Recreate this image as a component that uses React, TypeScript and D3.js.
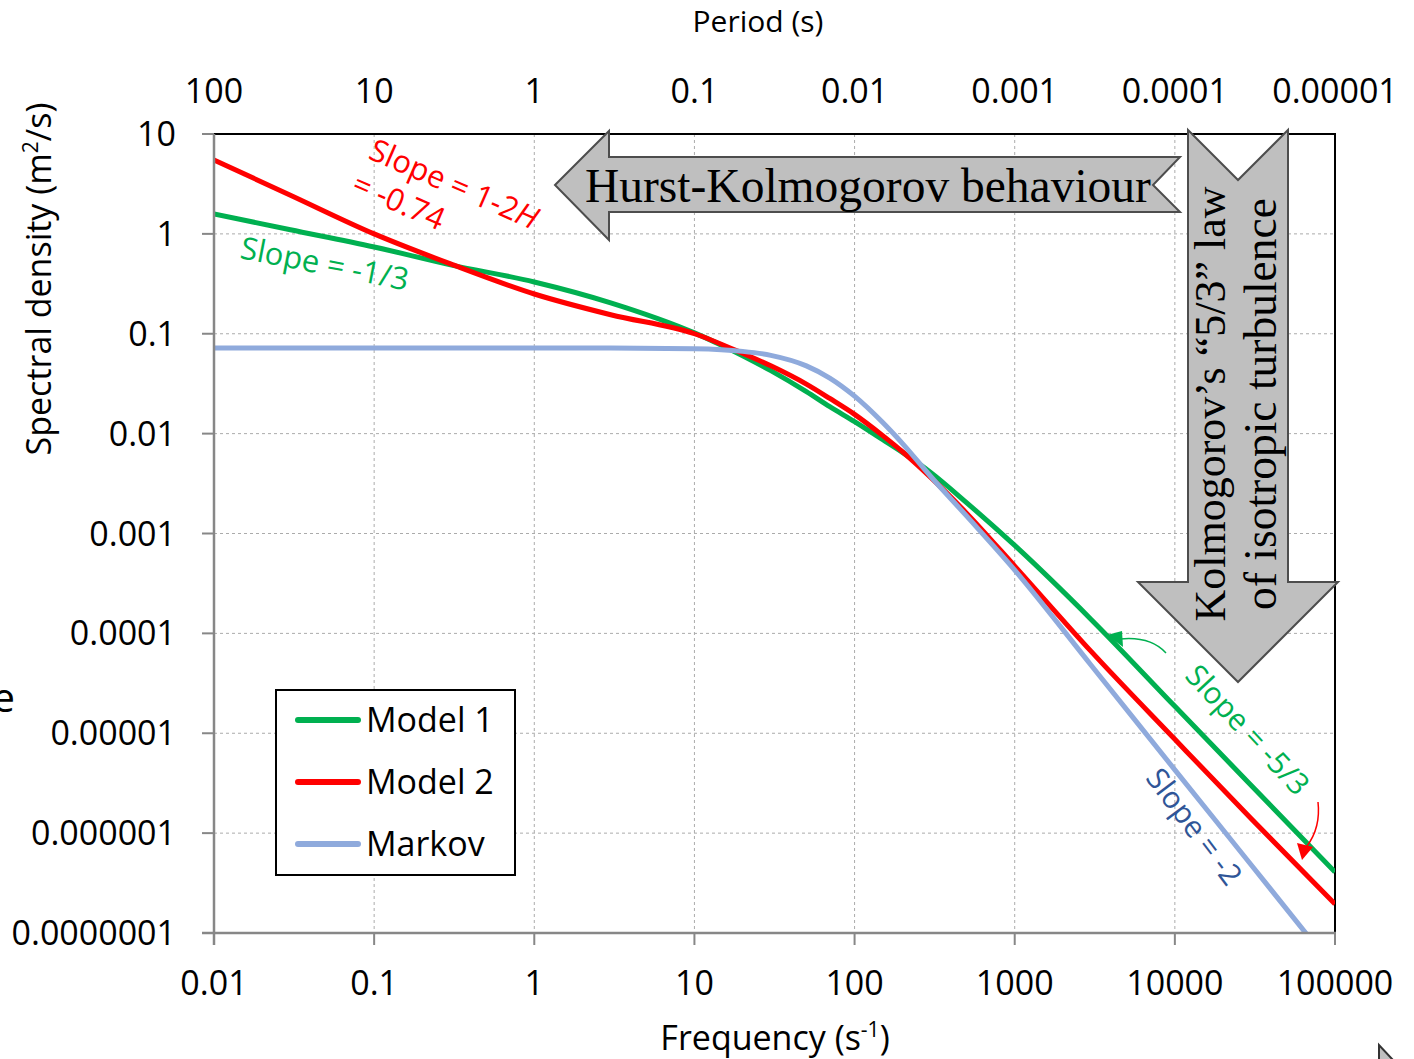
import React, { useEffect, useRef } from 'react';
import * as d3 from 'd3';

// values (frequency in 1/s, spectral density in m2/s)
const frequencies = [0.01, 0.03, 0.1, 0.3, 1, 3, 10, 20, 30, 50, 70, 100, 150, 200, 300, 500, 1000, 3000, 10000, 30000, 100000];
const model1 = [1.58, 1.10, 0.74, 0.49, 0.33, 0.204, 0.102, 0.0603, 0.0427, 0.0263, 0.0186, 0.0132, 0.0087, 0.00646, 0.00407, 0.00204, 0.000759, 0.000138, 0.0000186, 0.0000030, 0.000000407];
const model2 = [5.5, 2.44, 1.0, 0.50, 0.25, 0.155, 0.10, 0.0637, 0.0477, 0.0313, 0.0225, 0.0156, 0.00955, 0.00655, 0.00363, 0.0016, 0.000472, 0.000066, 0.0000087, 0.00000139, 0.000000195];
const markov = [0.072, 0.072, 0.072, 0.072, 0.072, 0.0719, 0.0706, 0.0666, 0.0608, 0.0477, 0.036, 0.0237, 0.0129, 0.0079, 0.0037, 0.0015, 0.00043, 0.000048, 0.0000043, 0.00000048, 0.000000043];

const seriesNames = ['Model 1', 'Model 2', 'Markov'];
const seriesColors = ['#00B050', '#FF0000', '#8FAADC'];

const freqTicks = [0.01, 0.1, 1, 10, 100, 1000, 10000, 100000];
const freqLabels = ['0.01', '0.1', '1', '10', '100', '1000', '10000', '100000'];
const periodLabels = ['100', '10', '1', '0.1', '0.01', '0.001', '0.0001', '0.00001'];
const densityTicks = [10, 1, 0.1, 0.01, 0.001, 0.0001, 0.00001, 0.000001, 0.0000001];
const densityLabels = ['10', '1', '0.1', '0.01', '0.001', '0.0001', '0.00001', '0.000001', '0.0000001'];

const W = 1414, H = 1059;

function SpectrumChart() {
  const ref = useRef<SVGSVGElement>(null);

  useEffect(() => {
    const svg = d3.select(ref.current);
    svg.selectAll('*').remove();

    const left = 214, right = 1335, top = 134, bottom = 933;
    const sans = "'Open Sans', 'Noto Sans', sans-serif";
    const serif = "'Liberation Serif', 'DejaVu Serif', serif";

    const x = d3.scaleLog().domain([0.01, 100000]).range([left, right]);
    const y = d3.scaleLog().domain([0.0000001, 10]).range([bottom, top]);

    svg.append('rect').attr('width', W).attr('height', H).attr('fill', '#fff');

    // dashed grid
    const grid = svg.append('g')
      .attr('stroke', '#ABABAB')
      .attr('stroke-width', 1)
      .attr('stroke-dasharray', '3,3');
    grid.selectAll('line.v').data(freqTicks.slice(1, -1)).enter().append('line')
      .attr('x1', d => x(d)).attr('x2', d => x(d))
      .attr('y1', top).attr('y2', bottom);
    grid.selectAll('line.h').data(densityTicks.slice(1, -1)).enter().append('line')
      .attr('x1', left).attr('x2', right)
      .attr('y1', d => y(d)).attr('y2', d => y(d));

    // plot border (top / right black)
    svg.append('line').attr('x1', left).attr('x2', right + 1).attr('y1', top).attr('y2', top)
      .attr('stroke', '#000').attr('stroke-width', 2);
    svg.append('line').attr('x1', right).attr('x2', right).attr('y1', top).attr('y2', bottom)
      .attr('stroke', '#000').attr('stroke-width', 2);

    // curves
    svg.append('clipPath').attr('id', 'plotclip')
      .append('rect').attr('x', left).attr('y', top).attr('width', right - left).attr('height', bottom - top);

    const line = d3.line<{ f: number; v: number }>()
      .x(d => x(d.f))
      .y(d => y(d.v))
      .curve(d3.curveMonotoneX);

    const series = [model1, model2, markov].map((vals, i) => ({
      name: seriesNames[i],
      color: seriesColors[i],
      values: frequencies.map((f, j) => ({ f, v: vals[j] })),
    }));

    svg.append('g').attr('clip-path', 'url(#plotclip)')
      .selectAll('path').data(series).enter().append('path')
      .attr('d', d => line(d.values))
      .attr('fill', 'none')
      .attr('stroke', d => d.color)
      .attr('stroke-width', 5);

    // axes
    const axisColor = '#878787';
    svg.append('line').attr('x1', left).attr('x2', left).attr('y1', top).attr('y2', bottom + 12)
      .attr('stroke', axisColor).attr('stroke-width', 2.5);
    svg.append('line').attr('x1', left - 12).attr('x2', right + 1).attr('y1', bottom).attr('y2', bottom)
      .attr('stroke', axisColor).attr('stroke-width', 2.5);

    svg.selectAll('line.yt').data(densityTicks).enter().append('line')
      .attr('x1', left - 12).attr('x2', left)
      .attr('y1', d => y(d)).attr('y2', d => y(d))
      .attr('stroke', axisColor).attr('stroke-width', 2);
    svg.selectAll('line.xt').data(freqTicks).enter().append('line')
      .attr('x1', d => x(d)).attr('x2', d => x(d))
      .attr('y1', bottom).attr('y2', bottom + 12)
      .attr('stroke', axisColor).attr('stroke-width', 2);

    const tickFont = 34;
    svg.selectAll('text.yl').data(densityTicks).enter().append('text')
      .attr('x', left - 38).attr('y', d => y(d) + 12)
      .attr('text-anchor', 'end')
      .attr('font-family', sans).attr('font-size', tickFont)
      .text((d, i) => densityLabels[i]);

    svg.selectAll('text.xl').data(freqTicks).enter().append('text')
      .attr('x', d => x(d)).attr('y', bottom + 62)
      .attr('text-anchor', 'middle')
      .attr('font-family', sans).attr('font-size', tickFont)
      .text((d, i) => freqLabels[i]);

    svg.selectAll('text.pl').data(freqTicks).enter().append('text')
      .attr('x', d => x(d)).attr('y', 103)
      .attr('text-anchor', 'middle')
      .attr('font-family', sans).attr('font-size', tickFont)
      .text((d, i) => periodLabels[i]);

    // axis titles
    svg.append('text').attr('x', 758).attr('y', 32)
      .attr('text-anchor', 'middle').attr('font-family', sans).attr('font-size', 30)
      .text('Period (s)');

    const fx = svg.append('text').attr('x', 775).attr('y', 1050)
      .attr('text-anchor', 'middle').attr('font-family', sans).attr('font-size', 34);
    fx.append('tspan').text('Frequency (s');
    fx.append('tspan').attr('font-size', 21).attr('dy', -13).text('-1');
    fx.append('tspan').attr('dy', 13).text(')');

    const yt = svg.append('text')
      .attr('transform', 'translate(51,279) rotate(-90)')
      .attr('text-anchor', 'middle').attr('font-family', sans).attr('font-size', 34);
    yt.append('tspan').text('Spectral density (m');
    yt.append('tspan').attr('font-size', 21).attr('dy', -13).text('2');
    yt.append('tspan').attr('dy', 13).text('/s)');

    // block arrows
    const arrowStyle = (p: d3.Selection<SVGPolygonElement, unknown, null, undefined>) =>
      p.attr('fill', '#BFBFBF').attr('stroke', '#4D4D4D').attr('stroke-width', 2);

    svg.append('polygon')
      .attr('points', '555,185 609,131 609,157 1180,157 1153,185 1180,212 609,212 609,240')
      .call(arrowStyle);
    svg.append('text').attr('x', 585).attr('y', 202)
      .attr('font-family', serif).attr('font-size', 47.5)
      .text('Hurst-Kolmogorov behaviour');

    svg.append('polygon')
      .attr('points', '1188,130 1238,180 1288,130 1288,582 1338,582 1238,682 1138,582 1188,582')
      .call(arrowStyle);
    svg.append('text').attr('transform', 'translate(1225,404) rotate(-90)')
      .attr('text-anchor', 'middle').attr('font-family', serif).attr('font-size', 44)
      .text('Kolmogorov\u2019s \u201C5/3\u201D law');
    svg.append('text').attr('transform', 'translate(1276,404) rotate(-90)')
      .attr('text-anchor', 'middle').attr('font-family', serif).attr('font-size', 45.5)
      .text('of isotropic turbulence');

    // slope annotations
    const red = svg.append('g').attr('transform', 'translate(367,158) rotate(23.5)')
      .attr('font-family', sans).attr('font-size', 31).attr('fill', '#FF0000');
    const r1 = red.append('text').attr('x', 0).attr('y', 0);
    r1.append('tspan').text('Slope = 1-2');
    r1.append('tspan').attr('font-style', 'italic').text('H');
    red.append('text').attr('x', -2).attr('y', 38).text('= -0.74');

    svg.append('text').attr('transform', 'translate(239,258) rotate(11)')
      .attr('font-family', sans).attr('font-size', 31).attr('fill', '#00B050')
      .text('Slope = -1/3');

    svg.append('text').attr('transform', 'translate(1240,737) rotate(47)')
      .attr('text-anchor', 'middle')
      .attr('font-family', sans).attr('font-size', 30).attr('fill', '#00B050')
      .text('Slope = -5/3');

    svg.append('text').attr('transform', 'translate(1186,833) rotate(53)')
      .attr('text-anchor', 'middle')
      .attr('font-family', sans).attr('font-size', 30).attr('fill', '#2F5597')
      .text('Slope = -2');

    // small pointer arrows
    svg.append('path').attr('d', 'M1166,653 C1155,641 1140,637 1120,639')
      .attr('fill', 'none').attr('stroke', '#00B050').attr('stroke-width', 1.5);
    svg.append('polygon').attr('points', '1107,635 1122,631 1123,647').attr('fill', '#00B050');

    svg.append('path').attr('d', 'M1318,802 C1320,820 1316,834 1307,846')
      .attr('fill', 'none').attr('stroke', '#FF0000').attr('stroke-width', 1.5);
    svg.append('polygon').attr('points', '1297,843 1313,847 1302,860').attr('fill', '#FF0000');

    // legend
    const lg = svg.append('g');
    lg.append('rect').attr('x', 276).attr('y', 690).attr('width', 239).attr('height', 185)
      .attr('fill', '#fff').attr('stroke', '#000').attr('stroke-width', 2);
    const items = lg.selectAll('g.item').data(series).enter().append('g')
      .attr('transform', (d, i) => `translate(0,${720 + i * 62})`);
    items.append('line').attr('x1', 298).attr('x2', 358).attr('y1', 0).attr('y2', 0)
      .attr('stroke', d => d.color).attr('stroke-width', 6).attr('stroke-linecap', 'round');
    items.append('text').attr('x', 366).attr('y', 12)
      .attr('font-family', sans).attr('font-size', 34)
      .text(d => d.name);

    // stray bits at the picture edges
    svg.append('text').attr('x', 15).attr('y', 712).attr('text-anchor', 'end')
      .attr('font-family', sans).attr('font-size', 40).text('e');
    svg.append('polygon').attr('points', '1379,1045 1379,1060 1393,1060')
      .attr('fill', '#BFBFBF').attr('stroke', '#333').attr('stroke-width', 2);
  }, []);

  return <svg ref={ref} width={W} height={H} style={{ display: 'block' }} />;
}

export default function App() {
  return (
    <div style={{ position: 'absolute', left: 0, top: 0 }}>
      <SpectrumChart />
    </div>
  );
}
